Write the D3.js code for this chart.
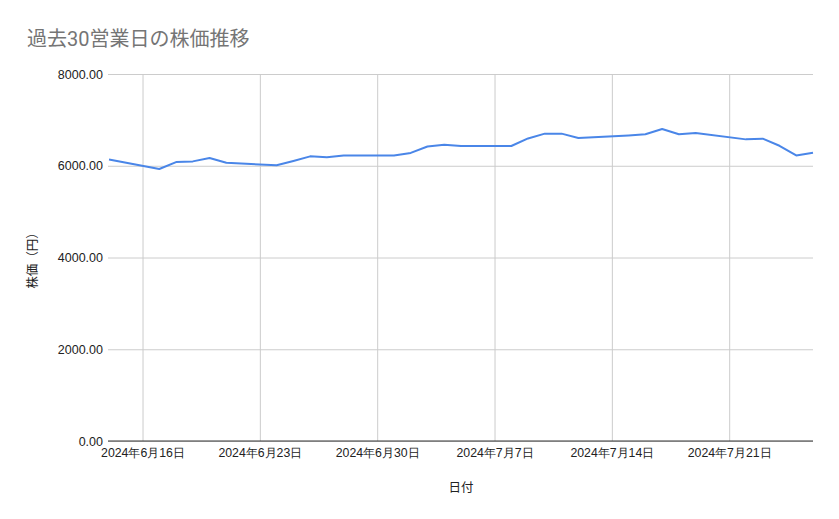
<!DOCTYPE html>
<html>
<head>
<meta charset="utf-8">
<script src="https://cdn.jsdelivr.net/npm/d3@7"></script>
<style>
  body { margin: 0; background: #fff; }
  svg { font-family: Roboto, "Noto Sans CJK JP", sans-serif; }
</style>
</head>
<body>
<div id="app"></div>
<script>
// data
const dates = [
  "2024-06-14",
  "2024-06-17", "2024-06-18", "2024-06-19", "2024-06-20", "2024-06-21",
  "2024-06-24", "2024-06-25", "2024-06-26", "2024-06-27", "2024-06-28",
  "2024-07-01", "2024-07-02", "2024-07-03", "2024-07-04", "2024-07-05",
  "2024-07-08", "2024-07-09", "2024-07-10", "2024-07-11", "2024-07-12",
  "2024-07-15", "2024-07-16", "2024-07-17", "2024-07-18", "2024-07-19",
  "2024-07-22", "2024-07-23", "2024-07-24", "2024-07-25", "2024-07-26"
];
const prices = [
  6135,
  5930, 6080, 6095, 6170, 6065,
  6010, 6105, 6205, 6185, 6225,
  6225, 6280, 6420, 6460, 6430,
  6430, 6595, 6700, 6700, 6605,
  6660, 6685, 6800, 6685, 6715,
  6575, 6590, 6435, 6225, 6285
];
const yTicks = [0, 2000, 4000, 6000, 8000];
const xTickDates = ["2024-06-16", "2024-06-23", "2024-06-30", "2024-07-07", "2024-07-14", "2024-07-21"];
const xTickLabels = ["2024年6月16日", "2024年6月23日", "2024年6月30日", "2024年7月7日", "2024年7月14日", "2024年7月21日"];

const parse = d3.timeParse("%Y-%m-%d");
const dataset = dates.map((d, i) => [parse(d), prices[i]]);

const w = 839;
const h = 519;
const margin = { top: 74, right: 26, bottom: 78, left: 109 };

const svg = d3.select("#app").append("svg").attr("width", w).attr("height", h);

//title
svg.append("text")
  .attr("x", 27)
  .attr("y", 46)
  .attr("fill", "#757575")
  .style("font-size", "20px")
  .text("過去30営業日の株価推移");

//scales
const scaleX = d3.scaleTime()
  .domain([dataset[0][0], dataset[dataset.length - 1][0]])
  .range([margin.left, w - margin.right]);

const scaleY = d3.scaleLinear()
  .domain([0, 8000])
  .range([h - margin.bottom, margin.top]);

//horizontal gridlines + y labels
const yAxis = d3.axisLeft(scaleY)
  .tickValues(yTicks)
  .tickSize(-(w - margin.left - margin.right))
  .tickPadding(6)
  .tickFormat(d3.format(".2f"));

const gy = svg.append("g")
  .attr("transform", "translate(" + margin.left + ",0)")
  .call(yAxis);
gy.select(".domain").remove();
gy.selectAll("line").attr("stroke", "#cccccc").attr("x1", -1);
gy.selectAll("text").attr("fill", "#222").style("font-size", "12.5px");

//vertical gridlines + x labels
const xAxis = d3.axisBottom(scaleX)
  .tickValues(xTickDates.map(parse))
  .tickSize(-(h - margin.top - margin.bottom))
  .tickPadding(7)
  .tickFormat((d, i) => xTickLabels[i]);

const gx = svg.append("g")
  .attr("transform", "translate(0," + (h - margin.bottom) + ")")
  .call(xAxis);
gx.select(".domain").remove();
gx.selectAll("line").attr("stroke", "#cccccc");
gx.selectAll("text").attr("fill", "#222").style("font-size", "12.3px");

//baseline
svg.append("line")
  .attr("x1", margin.left - 1)
  .attr("x2", w - margin.right)
  .attr("y1", scaleY(0))
  .attr("y2", scaleY(0))
  .attr("stroke", "#333")
  .attr("stroke-width", 1);

//axis titles
svg.append("text")
  .attr("x", (margin.left + w - margin.right) / 2)
  .attr("y", 492)
  .attr("text-anchor", "middle")
  .attr("fill", "#222")
  .style("font-size", "12.5px")
  .text("日付");

svg.append("text")
  .attr("transform", "translate(37," + (margin.top + h - margin.bottom) / 2 + ") rotate(-90)")
  .attr("text-anchor", "middle")
  .attr("fill", "#222")
  .style("font-size", "12.5px")
  .text("株価（円）");

//line
const line = d3.line()
  .x((d) => scaleX(d[0]))
  .y((d) => scaleY(d[1]));

svg.append("path")
  .datum(dataset)
  .attr("fill", "none")
  .attr("stroke", "#4a86e8")
  .attr("stroke-width", 2)
  .attr("stroke-linejoin", "round")
  .attr("d", line);
</script>
</body>
</html>
